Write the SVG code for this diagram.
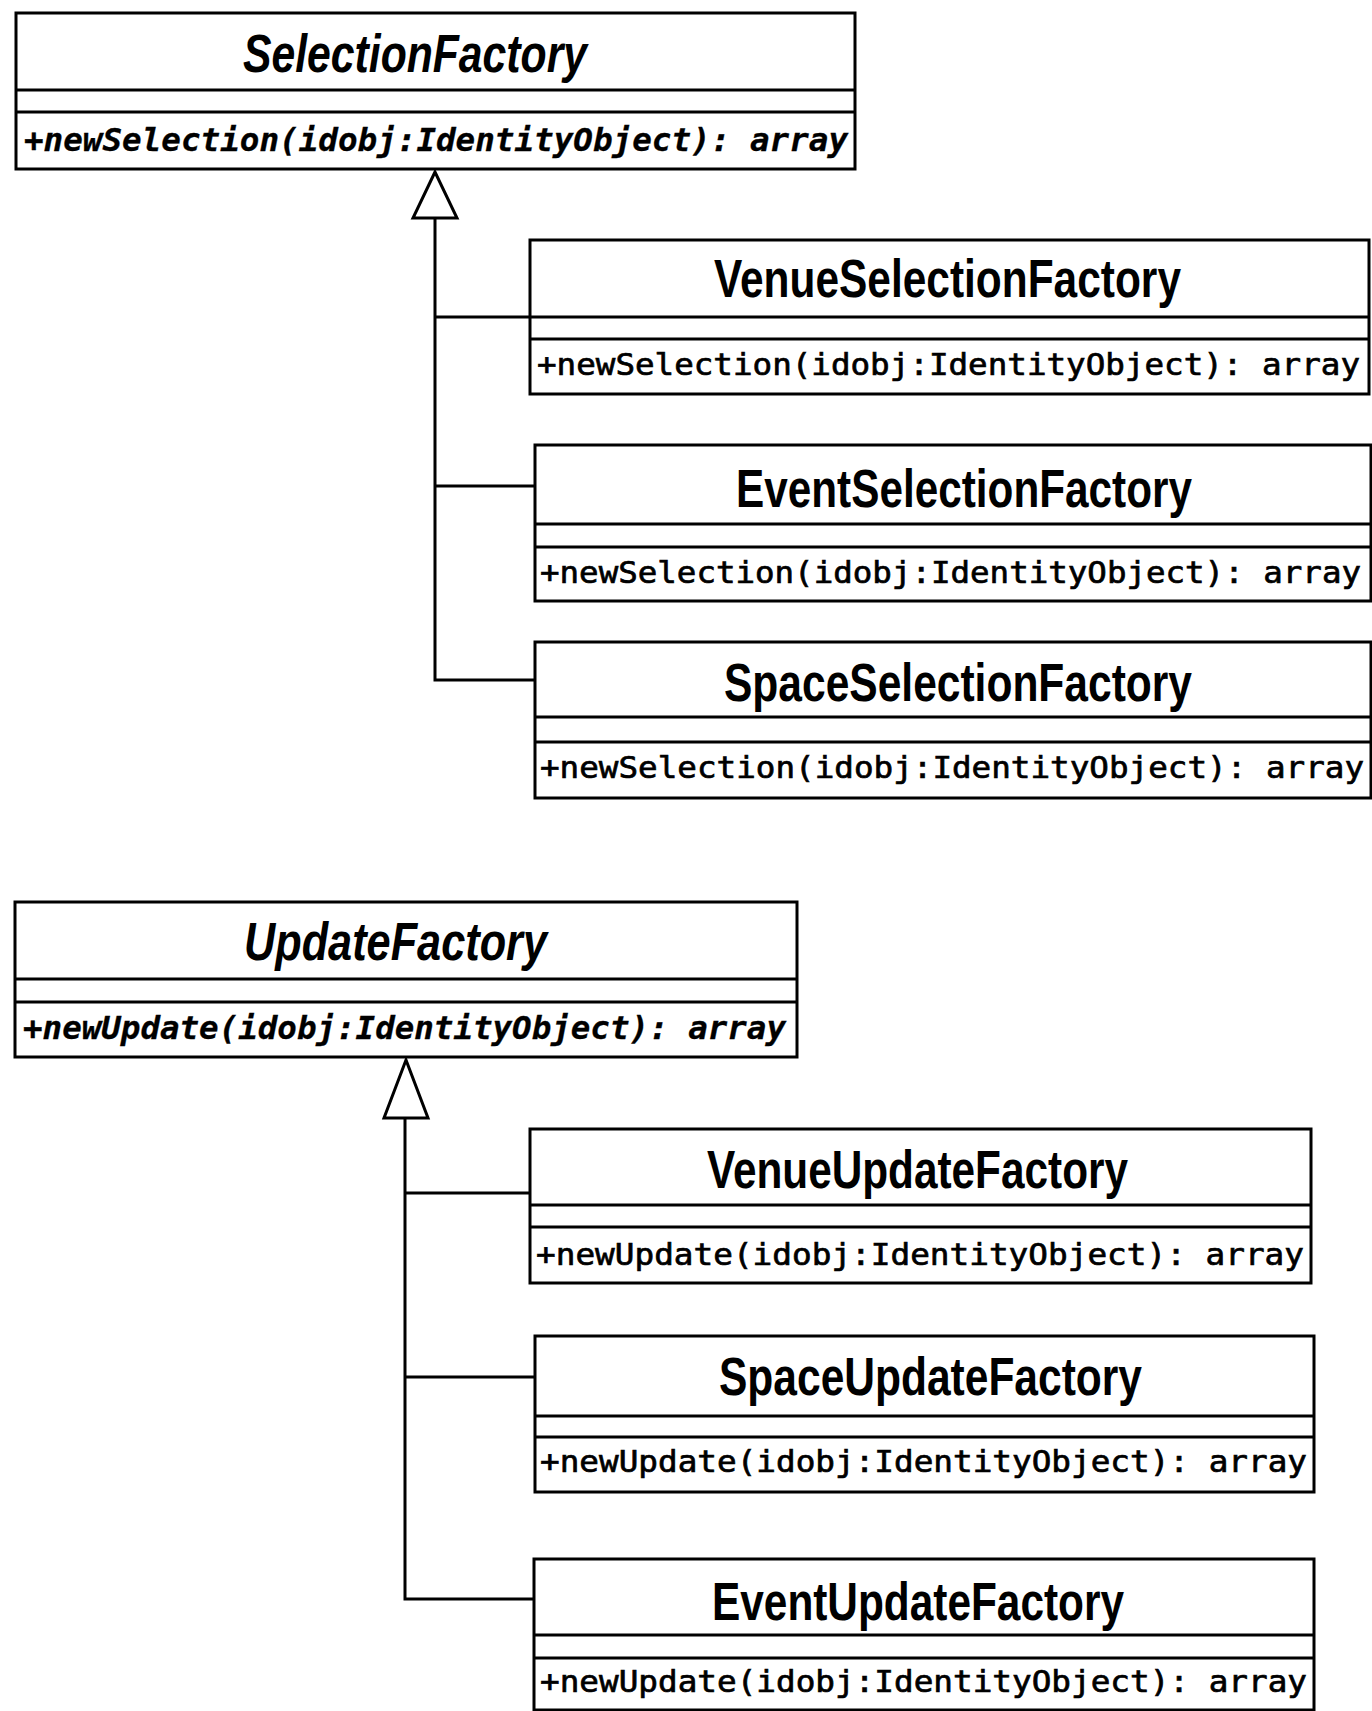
<svg xmlns="http://www.w3.org/2000/svg" width="1372" height="1711" viewBox="0 0 1372 1711">
<style>
.box{fill:#fff;stroke:#000;stroke-width:3}
.div{stroke:#000;stroke-width:3}
.title{font-family:"Liberation Sans",Arial,sans-serif;font-weight:bold;font-size:53px;fill:#000}
.abs{font-style:italic}
.op{font-family:"DejaVu Sans Mono","Liberation Mono",monospace;font-size:31px;fill:#000;stroke:#000;stroke-width:0.7}
.absop{font-weight:bold;font-style:italic;stroke-width:0.3}
.conn{fill:none;stroke:#000;stroke-width:3}
.tri{fill:#fff;stroke:#000;stroke-width:3;stroke-linejoin:miter}
</style>
<rect width="1372" height="1711" fill="#fff"/>
<g id="connectors">
<polyline class="conn" points="435,218 435,680 535,680"/>
<line class="conn" x1="435" y1="317" x2="530" y2="317"/>
<line class="conn" x1="435" y1="486" x2="535" y2="486"/>
<polygon class="tri" points="435,172 413,218 457,218"/>
<polyline class="conn" points="405,1118 405,1599 534,1599"/>
<line class="conn" x1="405" y1="1193" x2="530" y2="1193"/>
<line class="conn" x1="405" y1="1377" x2="535" y2="1377"/>
<polygon class="tri" points="406,1060 384,1118 428,1118"/>
</g>
<g id="SelectionFactory">
<rect class="box" x="16" y="13" width="839" height="156"/>
<line class="div" x1="16" y1="90" x2="855" y2="90"/>
<line class="div" x1="16" y1="112" x2="855" y2="112"/>
<text class="title abs" x="243" y="72" textLength="344" lengthAdjust="spacingAndGlyphs">SelectionFactory</text>
<text class="op absop" x="24" y="151" textLength="824" lengthAdjust="spacingAndGlyphs">+newSelection(idobj:IdentityObject): array</text>
</g>
<g id="VenueSelectionFactory">
<rect class="box" x="530" y="240" width="839" height="154"/>
<line class="div" x1="530" y1="317" x2="1369" y2="317"/>
<line class="div" x1="530" y1="339" x2="1369" y2="339"/>
<text class="title" x="714" y="297" textLength="467" lengthAdjust="spacingAndGlyphs">VenueSelectionFactory</text>
<text class="op" x="537" y="375" textLength="823" lengthAdjust="spacingAndGlyphs">+newSelection(idobj:IdentityObject): array</text>
</g>
<g id="EventSelectionFactory">
<rect class="box" x="535" y="445" width="836" height="156"/>
<line class="div" x1="535" y1="524" x2="1371" y2="524"/>
<line class="div" x1="535" y1="547" x2="1371" y2="547"/>
<text class="title" x="736" y="507" textLength="456" lengthAdjust="spacingAndGlyphs">EventSelectionFactory</text>
<text class="op" x="540" y="583" textLength="821" lengthAdjust="spacingAndGlyphs">+newSelection(idobj:IdentityObject): array</text>
</g>
<g id="SpaceSelectionFactory">
<rect class="box" x="535" y="642" width="836" height="156"/>
<line class="div" x1="535" y1="717" x2="1371" y2="717"/>
<line class="div" x1="535" y1="742" x2="1371" y2="742"/>
<text class="title" x="724" y="701" textLength="468" lengthAdjust="spacingAndGlyphs">SpaceSelectionFactory</text>
<text class="op" x="540" y="778" textLength="824" lengthAdjust="spacingAndGlyphs">+newSelection(idobj:IdentityObject): array</text>
</g>
<g id="UpdateFactory">
<rect class="box" x="15" y="902" width="782" height="155"/>
<line class="div" x1="15" y1="979" x2="797" y2="979"/>
<line class="div" x1="15" y1="1002" x2="797" y2="1002"/>
<text class="title abs" x="244" y="960" textLength="303" lengthAdjust="spacingAndGlyphs">UpdateFactory</text>
<text class="op absop" x="23" y="1039" textLength="763" lengthAdjust="spacingAndGlyphs">+newUpdate(idobj:IdentityObject): array</text>
</g>
<g id="VenueUpdateFactory">
<rect class="box" x="530" y="1129" width="781" height="154"/>
<line class="div" x1="530" y1="1205" x2="1311" y2="1205"/>
<line class="div" x1="530" y1="1227" x2="1311" y2="1227"/>
<text class="title" x="707" y="1188" textLength="421" lengthAdjust="spacingAndGlyphs">VenueUpdateFactory</text>
<text class="op" x="536" y="1265" textLength="768" lengthAdjust="spacingAndGlyphs">+newUpdate(idobj:IdentityObject): array</text>
</g>
<g id="SpaceUpdateFactory">
<rect class="box" x="535" y="1336" width="779" height="156"/>
<line class="div" x1="535" y1="1416" x2="1314" y2="1416"/>
<line class="div" x1="535" y1="1437" x2="1314" y2="1437"/>
<text class="title" x="719" y="1395" textLength="423" lengthAdjust="spacingAndGlyphs">SpaceUpdateFactory</text>
<text class="op" x="540" y="1472" textLength="767" lengthAdjust="spacingAndGlyphs">+newUpdate(idobj:IdentityObject): array</text>
</g>
<g id="EventUpdateFactory">
<rect class="box" x="534" y="1559" width="780" height="151"/>
<line class="div" x1="534" y1="1635" x2="1314" y2="1635"/>
<line class="div" x1="534" y1="1658" x2="1314" y2="1658"/>
<text class="title" x="712" y="1620" textLength="412" lengthAdjust="spacingAndGlyphs">EventUpdateFactory</text>
<text class="op" x="540" y="1692" textLength="767" lengthAdjust="spacingAndGlyphs">+newUpdate(idobj:IdentityObject): array</text>
</g>
</svg>
